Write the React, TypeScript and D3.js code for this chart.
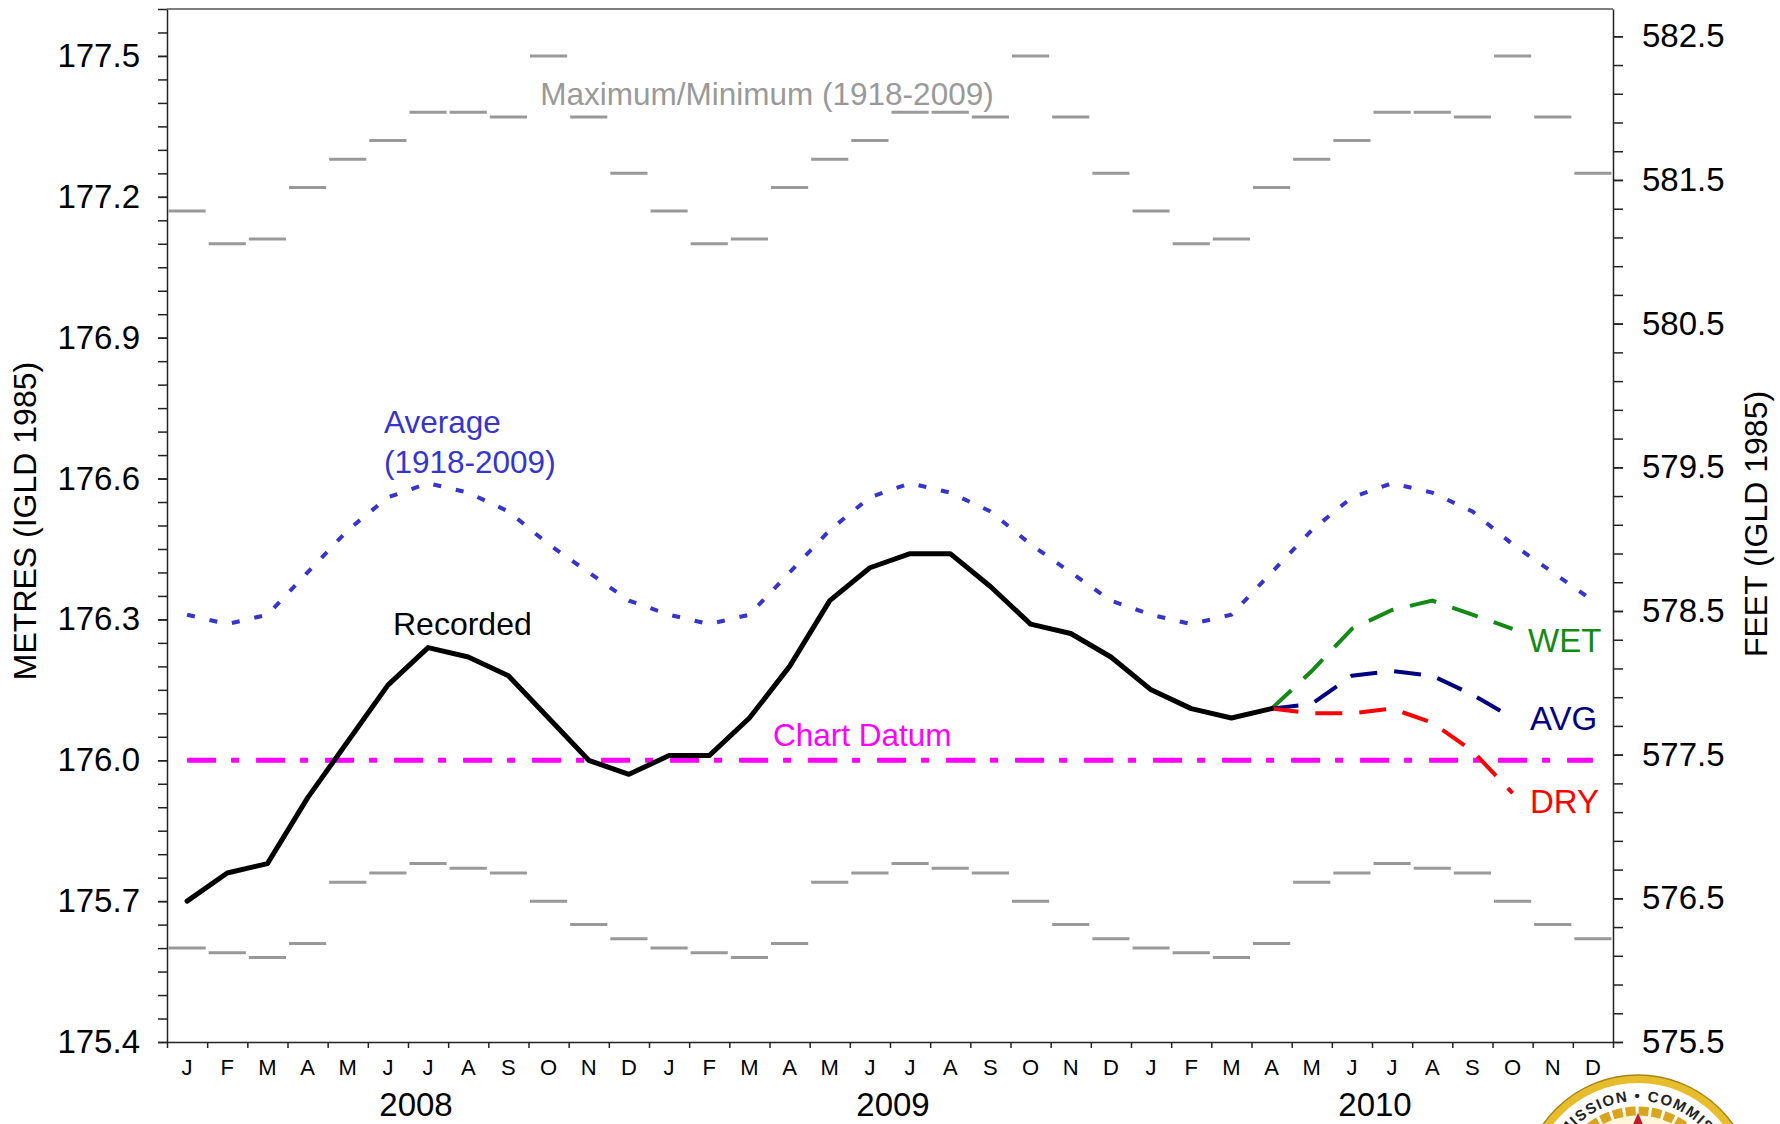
import React, { useRef, useEffect } from 'react';
import * as d3 from 'd3';

// Lake level chart, metres on the left and feet on the right
const monthLetters = ['J', 'F', 'M', 'A', 'M', 'J', 'J', 'A', 'S', 'O', 'N', 'D'];
const years = ['2008', '2009', '2010'];

// recorded monthly means, Jan 2008 .. Apr 2010
const recorded = [
  175.70, 175.76, 175.78, 175.92, 176.04, 176.16, 176.24, 176.22, 176.18, 176.09, 176.00, 175.97,
  176.01, 176.01, 176.09, 176.20, 176.34, 176.41, 176.44, 176.44, 176.37, 176.29, 176.27, 176.22,
  176.15, 176.11, 176.09, 176.11,
];

// long-term monthly values (1918-2009), one per calendar month
const averageMonthly = [176.31, 176.29, 176.31, 176.40, 176.49, 176.56, 176.59, 176.57, 176.53, 176.46, 176.40, 176.34];
const maxMonthly = [177.17, 177.10, 177.11, 177.22, 177.28, 177.32, 177.38, 177.38, 177.37, 177.50, 177.37, 177.25];
const minMonthly = [175.60, 175.59, 175.58, 175.61, 175.74, 175.76, 175.78, 175.77, 175.76, 175.70, 175.65, 175.62];

// outlooks Apr 2010 .. Oct 2010
const forecastStart = 27;
const wetOutlook = [176.11, 176.19, 176.28, 176.32, 176.34, 176.31, 176.28];
const avgOutlook = [176.11, 176.12, 176.18, 176.19, 176.18, 176.14, 176.09];
const dryOutlook = [176.11, 176.10, 176.10, 176.11, 176.08, 176.02, 175.93];

const chartDatum = 176.0;
const metreTicks = [175.4, 175.7, 176.0, 176.3, 176.6, 176.9, 177.2, 177.5];
const feetTicks = [575.5, 576.5, 577.5, 578.5, 579.5, 580.5, 581.5, 582.5];

const FONT = "'Liberation Sans', Arial, sans-serif";

const App = () => {
  const ref = useRef<SVGSVGElement | null>(null);

  useEffect(() => {
    const svg = d3.select(ref.current);
    svg.selectAll('*').remove();

    const left = 167, right = 1613, top = 9, bottom = 1042;
    const nMonths = years.length * 12;

    const x = d3.scaleLinear().domain([0, nMonths]).range([left, right]);
    const mid = (i: number) => x(i + 0.5);
    const y = d3.scaleLinear().domain([175.4, 177.6]).range([bottom, top]);
    const yFt = d3.scaleLinear().domain([575.5, 582.69]).range([bottom, top]);

    const allMonths = d3.range(nMonths);
    const avgSeries = allMonths.map(i => ({ i, v: averageMonthly[i % 12] }));
    const recSeries = recorded.map((v, i) => ({ i, v }));
    const line = d3.line<{ i: number; v: number }>().x(d => mid(d.i)).y(d => y(d.v));

    const g = svg.append('g').attr('font-family', FONT);

    // frame top line
    g.append('line')
      .attr('x1', left).attr('x2', right).attr('y1', top).attr('y2', top)
      .attr('stroke', '#555').attr('stroke-width', 1.5);

    // left axis
    const leftMinor = d3.range(175.4, 177.601, 0.05);
    g.append('g').attr('transform', `translate(${left},0)`)
      .call(d3.axisLeft(y).tickValues(leftMinor).tickSize(9).tickSizeOuter(0).tickFormat(() => ''))
      .call(a => a.selectAll('line,path').attr('stroke', '#222').attr('stroke-width', 1.5));
    g.append('g').attr('transform', `translate(${left},0)`)
      .call(d3.axisLeft(y).tickValues(metreTicks).tickSize(9).tickSizeOuter(0).tickPadding(18).tickFormat(d3.format('.1f')))
      .call(a => a.select('.domain').remove())
      .call(a => a.selectAll('line').attr('stroke', '#222').attr('stroke-width', 1.5))
      .call(a => a.selectAll('text').attr('font-size', 33).attr('font-family', FONT).attr('fill', '#000'));

    // right axis
    const rightMinor = d3.range(575.5, 582.69, 0.2);
    g.append('g').attr('transform', `translate(${right},0)`)
      .call(d3.axisRight(yFt).tickValues(rightMinor).tickSize(10).tickSizeOuter(0).tickFormat(() => ''))
      .call(a => a.selectAll('line,path').attr('stroke', '#222').attr('stroke-width', 1.5));
    g.append('g').attr('transform', `translate(${right},0)`)
      .call(d3.axisRight(yFt).tickValues(feetTicks).tickSize(10).tickSizeOuter(0).tickPadding(19).tickFormat(d3.format('.1f')))
      .call(a => a.select('.domain').remove())
      .call(a => a.selectAll('line').attr('stroke', '#222').attr('stroke-width', 1.5))
      .call(a => a.selectAll('text').attr('font-size', 33).attr('font-family', FONT).attr('fill', '#000'));

    // bottom axis with month boundaries
    g.append('g').attr('transform', `translate(0,${bottom})`)
      .call(d3.axisBottom(x).tickValues(d3.range(nMonths + 1)).tickSize(6).tickSizeOuter(0).tickFormat(() => ''))
      .call(a => a.selectAll('line,path').attr('stroke', '#222').attr('stroke-width', 1.5));

    g.append('g').selectAll('text')
      .data(allMonths)
      .join('text')
      .attr('x', d => mid(d))
      .attr('y', bottom + 33)
      .attr('text-anchor', 'middle')
      .attr('font-size', 22)
      .text(d => monthLetters[d % 12]);

    g.append('g').selectAll('text')
      .data(years)
      .join('text')
      .attr('x', (d, i) => x(i * 12 + 6) + (i === 0 ? 8 : 3))
      .attr('y', bottom + 74)
      .attr('text-anchor', 'middle')
      .attr('font-size', 33)
      .text(d => d);

    // axis titles
    g.append('text')
      .attr('transform', `translate(36,521) rotate(-90)`)
      .attr('text-anchor', 'middle')
      .attr('font-size', 32)
      .text('METRES (IGLD 1985)');
    g.append('text')
      .attr('transform', `translate(1767,524) rotate(-90)`)
      .attr('text-anchor', 'middle')
      .attr('font-size', 32)
      .text('FEET (IGLD 1985)');

    // max / min monthly steps
    const stepG = g.append('g').attr('stroke', '#999').attr('stroke-width', 3);
    [maxMonthly, minMonthly].forEach(arr => {
      stepG.append('g').selectAll('line')
        .data(allMonths)
        .join('line')
        .attr('x1', d => x(d) + 1.5)
        .attr('x2', d => x(d + 1) - 1.5)
        .attr('y1', d => y(arr[d % 12]))
        .attr('y2', d => y(arr[d % 12]));
    });

    // chart datum
    g.append('line')
      .attr('x1', mid(0)).attr('x2', mid(nMonths - 1))
      .attr('y1', y(chartDatum)).attr('y2', y(chartDatum))
      .attr('stroke', '#ff00ff').attr('stroke-width', 5)
      .attr('stroke-dasharray', '29,15,8,17');

    // average
    g.append('path')
      .datum(avgSeries)
      .attr('fill', 'none')
      .attr('stroke', '#3535cc')
      .attr('stroke-width', 4)
      .attr('stroke-dasharray', '8,15')
      .attr('d', line);

    // outlooks
    const outlooks = [
      { vals: wetOutlook, color: '#138a13' },
      { vals: avgOutlook, color: '#000080' },
      { vals: dryOutlook, color: '#ff0000' },
    ];
    outlooks.forEach(o => {
      g.append('path')
        .datum(o.vals.map((v, k) => ({ i: forecastStart + k, v })))
        .attr('fill', 'none')
        .attr('stroke', o.color)
        .attr('stroke-width', 4)
        .attr('stroke-dasharray', '27,17')
        .attr('d', line);
    });

    // recorded
    g.append('path')
      .datum(recSeries)
      .attr('fill', 'none')
      .attr('stroke', '#000')
      .attr('stroke-width', 5)
      .attr('stroke-linejoin', 'round')
      .attr('stroke-linecap', 'round')
      .attr('d', line);

    // annotations
    const labels = [
      { t: 'Maximum/Minimum (1918-2009)', x: 767, y: 105, c: '#999', a: 'middle', s: 31.5 },
      { t: 'Average', x: 384, y: 433, c: '#3535cc', a: 'start', s: 31.5 },
      { t: '(1918-2009)', x: 384, y: 473, c: '#3535cc', a: 'start', s: 31.5 },
      { t: 'Recorded', x: 393, y: 635, c: '#000', a: 'start', s: 32 },
      { t: 'Chart Datum', x: 773, y: 746, c: '#ff00ff', a: 'start', s: 31.5 },
      { t: 'WET', x: 1528, y: 652, c: '#138a13', a: 'start', s: 33 },
      { t: 'AVG', x: 1530, y: 730, c: '#000080', a: 'start', s: 33 },
      { t: 'DRY', x: 1530, y: 813, c: '#ff0000', a: 'start', s: 33 },
    ];
    g.append('g').selectAll('text')
      .data(labels)
      .join('text')
      .attr('x', d => d.x)
      .attr('y', d => d.y)
      .attr('fill', d => d.c)
      .attr('text-anchor', d => d.a)
      .attr('font-size', d => d.s)
      .text(d => d.t);

    // commission seal, partly cut off at the bottom right
    const cx = 1638, cy = 1191;
    const seal = g.append('g');
    seal.append('circle').attr('cx', cx).attr('cy', cy).attr('r', 116)
      .attr('fill', '#e8bd2c').attr('stroke', '#a8841a').attr('stroke-width', 1.5);
    seal.append('circle').attr('cx', cx).attr('cy', cy).attr('r', 108).attr('fill', '#fff');
    seal.append('path').attr('id', 'sealArc')
      .attr('d', `M${cx - 90},${cy} A90,90 0 0 1 ${cx + 90},${cy}`)
      .attr('fill', 'none');
    seal.append('text')
      .attr('font-size', 15).attr('font-weight', 'bold').attr('fill', '#222')
      .attr('letter-spacing', 1.5)
      .append('textPath')
      .attr('href', '#sealArc')
      .attr('startOffset', '50%')
      .attr('text-anchor', 'middle')
      .text('COMMISSION \u2022 COMMISSION');
    seal.append('circle').attr('cx', cx).attr('cy', cy).attr('r', 80)
      .attr('fill', '#fff6dc').attr('stroke', '#d9a520').attr('stroke-width', 9)
      .attr('stroke-dasharray', '10,3');
    seal.append('path')
      .attr('d', `M${cx},${cy - 78} L${cx - 7},${cy - 62} L${cx + 7},${cy - 62} Z`)
      .attr('fill', '#c0182a');
  }, []);

  return (
    <div style={{ position: 'absolute', left: 0, top: 0 }}>
      <svg ref={ref} width={1780} height={1124} style={{ display: 'block', background: '#fff' }} />
    </div>
  );
};

export default App;
